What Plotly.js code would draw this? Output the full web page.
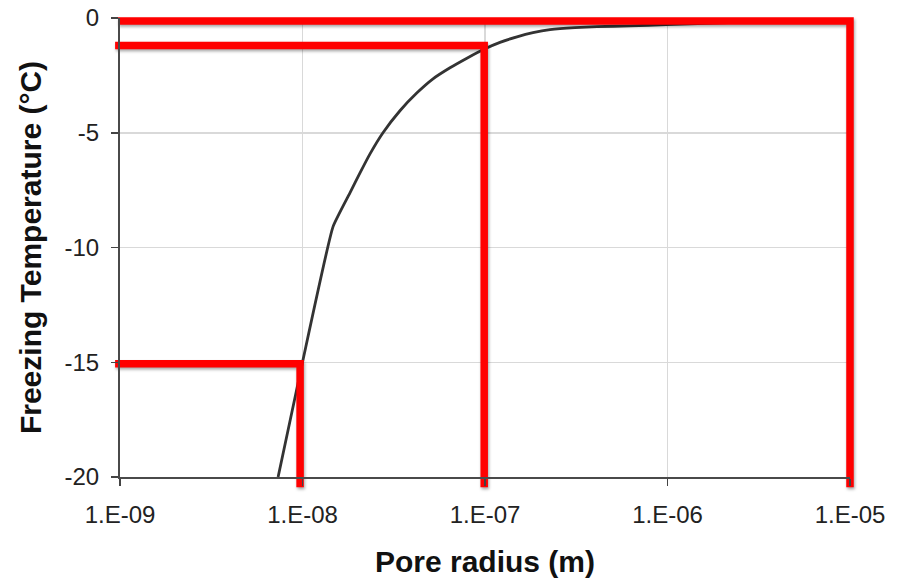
<!DOCTYPE html>
<html>
<head>
<meta charset="utf-8">
<script src="https://cdn.plot.ly/plotly-3.0.1.min.js"></script>
<style>
  html, body { margin: 0; padding: 0; background: #fff; }
  #chart { width: 901px; height: 578px; }
  .redguide path.js-line { filter: drop-shadow(1.5px 2px 1.5px rgba(0,0,0,0.35)); }
</style>
</head>
<body>
<div id="chart"></div>
<script>
// Freezing temperature curve
const poreRadius = [7.35e-9, 1.0e-8, 1.469e-8, 1.82e-8, 2.066e-8, 2.344e-8, 2.761e-8, 3.42e-8, 4.24e-8, 5.19e-8, 6.43e-8, 7.96e-8, 1.0e-7, 1.208e-7, 1.497e-7, 1.832e-7, 2.271e-7, 3.11e-7, 4.11e-7, 6.23e-7, 9.81e-7, 3.21e-6, 1.0e-5];
const freezingTemp = [-20, -15.0, -9.1, -7.62, -6.75, -5.92, -5.0, -4.04, -3.26, -2.65, -2.17, -1.75, -1.34, -1.06, -0.82, -0.64, -0.51, -0.42, -0.38, -0.34, -0.29, -0.16, -0.1];

// Red guide lines (L-shaped: horizontal then vertical)
const guide1X = [0.975e-9, 1.0e-5, 1.0e-5];
const guide1Y = [-0.13, -0.13, -20.45];
const guide2X = [0.94e-9, 0.99e-7, 0.99e-7];
const guide2Y = [-1.2, -1.2, -20.45];
const guide3X = [0.94e-9, 0.97e-8, 0.97e-8];
const guide3Y = [-15.07, -15.07, -20.45];

// Axis ticks
const xTickVals = [1e-9, 1e-8, 1e-7, 1e-6, 1e-5];
const xTickText = ['1.E-09', '1.E-08', '1.E-07', '1.E-06', '1.E-05'];
const yTickVals = [0, -5, -10, -15, -20];
const yTickText = ['0', '-5', '-10', '-15', '-20'];

const red = '#ff0000';
const traces = [
  {
    x: poreRadius, y: freezingTemp, type: 'scatter', mode: 'lines',
    line: { color: '#333333', width: 2.8, shape: 'spline', smoothing: 0.4 },
    hoverinfo: 'skip', showlegend: false
  },
  { x: guide1X, y: guide1Y, type: 'scatter', mode: 'lines', cliponaxis: false,
    line: { color: red, width: 7.5 }, showlegend: false, hoverinfo: 'skip' },
  { x: guide2X, y: guide2Y, type: 'scatter', mode: 'lines', cliponaxis: false,
    line: { color: red, width: 7.5 }, showlegend: false, hoverinfo: 'skip' },
  { x: guide3X, y: guide3Y, type: 'scatter', mode: 'lines', cliponaxis: false,
    line: { color: red, width: 7.5 }, showlegend: false, hoverinfo: 'skip' }
];

const layout = {
  width: 901, height: 578,
  margin: { l: 120, r: 51, t: 18, b: 101, pad: 0 },
  paper_bgcolor: '#ffffff', plot_bgcolor: '#ffffff',
  font: { family: 'Liberation Sans, Arial, sans-serif', color: '#222222' },
  showlegend: false,
  xaxis: {
    type: 'log', range: [-9, -5],
    tickmode: 'array', tickvals: xTickVals, ticktext: xTickText,
    tickfont: { size: 24, color: '#222222' },
    ticks: 'outside', ticklen: 7, tickwidth: 1.5, tickcolor: '#444444',
    showgrid: true, gridcolor: '#d9d9d9', gridwidth: 1.5,
    showline: true, linecolor: '#4a4a4a', linewidth: 2,
    zeroline: false, ticklabelstandoff: 8,
    title: { text: '<b>Pore radius (m)</b>', font: { size: 30, color: '#111111' }, standoff: 25 }
  },
  yaxis: {
    range: [-20, 0],
    tickmode: 'array', tickvals: yTickVals, ticktext: yTickText,
    tickfont: { size: 24, color: '#222222' },
    ticks: 'outside', ticklen: 7, tickwidth: 1.5, tickcolor: '#444444',
    showgrid: true, gridcolor: '#d9d9d9', gridwidth: 1.5,
    showline: true, linecolor: '#4a4a4a', linewidth: 2,
    zeroline: false, ticklabelstandoff: 7,
    title: { text: '<b>Freezing Temperature (°C)</b>', font: { size: 30, color: '#111111' }, standoff: 14 }
  }
};

Plotly.newPlot('chart', traces, layout, { staticPlot: true, displayModeBar: false }).then(function () {
  const tr = document.querySelectorAll('.scatterlayer .trace');
  tr.forEach(function (t, i) {
    if (i === 0) return;
    t.classList.add('redguide');
    // let the guide lines run past the plot edges as in the reference
    t.querySelectorAll('[clip-path]').forEach(function (el) { el.removeAttribute('clip-path'); });
    let el = t;
    while (el && el.tagName && el.tagName.toLowerCase() !== 'svg') {
      if (el.hasAttribute && el.hasAttribute('clip-path')) el.removeAttribute('clip-path');
      el = el.parentNode;
    }
  });
});
</script>
</body>
</html>
